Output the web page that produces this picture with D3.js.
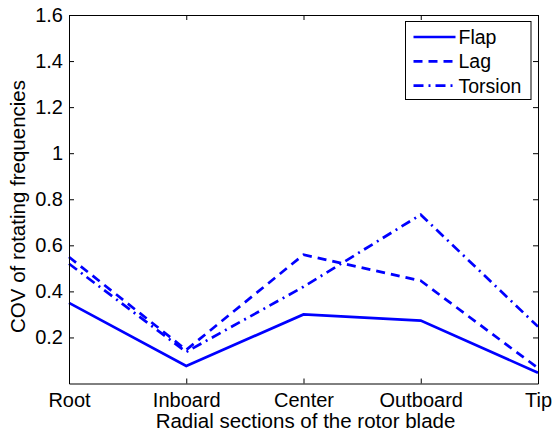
<!DOCTYPE html>
<html>
<head>
<meta charset="utf-8">
<script src="https://cdn.jsdelivr.net/npm/d3@7"></script>
<style>
  body { margin: 0; background: #fff; }
  text { font-family: "Liberation Sans", Arial, sans-serif; fill: #000; }
</style>
</head>
<body>
<svg id="chart" width="552" height="433"></svg>
<script>
// Radial sections and COV values
const sections = ["Root", "Inboard", "Center", "Outboard", "Tip"];
const flap = [0.35, 0.076, 0.30, 0.273, 0.047];
const lag = [0.549, 0.146, 0.559, 0.446, 0.067];
const torsion = [0.52, 0.137, 0.42, 0.733, 0.247];
const yTicks = [0.2, 0.4, 0.6, 0.8, 1, 1.2, 1.4, 1.6];

const seriesList = [
    { name: "Flap", values: flap, dash: null },
    { name: "Lag", values: lag, dash: "9,6" },
    { name: "Torsion", values: torsion, dash: "10,5,2,5" }
];

const tickFont = "20px";
const labelFont = "20.5px";
const legendFont = "19.5px";
const margin = {top: 15, right: 14, bottom: 49.5, left: 69};
const width = 552 - margin.left - margin.right;
const height = 433 - margin.top - margin.bottom;

const svg = d3.select("#chart");
const g = svg.append("g").attr("transform", `translate(${margin.left},${margin.top})`);

const x = d3.scalePoint().domain(sections).range([0, width]);
const y = d3.scaleLinear().domain([0, 1.6]).range([height, 0]);

// lines
const line = d3.line()
    .x((d, i) => x(sections[i]))
    .y(d => y(d));

seriesList.forEach(s => {
    g.append("path")
        .datum(s.values)
        .attr("fill", "none")
        .attr("stroke", "#0000ff")
        .attr("stroke-width", 2.7)
        .attr("stroke-dasharray", s.dash)
        .attr("d", line);
});

// axes with inward ticks, box style
const tickLen = 5;
const xAxis = g.append("g")
    .attr("transform", `translate(0,${height})`)
    .call(d3.axisBottom(x).tickSizeInner(-tickLen).tickSizeOuter(0).tickPadding(9));
const yAxis = g.append("g")
    .call(d3.axisLeft(y).tickValues(yTicks).tickFormat(d3.format("")).tickSizeInner(-tickLen).tickSizeOuter(0).tickPadding(6));
const xTop = g.append("g")
    .call(d3.axisTop(x).tickSizeInner(-tickLen).tickSizeOuter(0).tickFormat(""));
const yRight = g.append("g")
    .attr("transform", `translate(${width},0)`)
    .call(d3.axisRight(y).tickValues(yTicks).tickSizeInner(-tickLen).tickSizeOuter(0).tickFormat(""));

[xAxis, yAxis, xTop, yRight].forEach(a => {
    a.select(".domain").attr("stroke", "#000").attr("stroke-width", 1);
    a.selectAll(".tick line").attr("stroke", "#000");
    a.selectAll("text").style("font-size", tickFont).style("font-family", "Liberation Sans, Arial, sans-serif").attr("fill", "#000");
});

// axis labels
g.append("text")
    .attr("x", 305.5 - margin.left)
    .attr("y", height + 44.5)
    .attr("text-anchor", "middle")
    .style("font-size", labelFont)
    .text("Radial sections of the rotor blade");

g.append("text")
    .attr("transform", "rotate(-90)")
    .attr("x", -(206.5 - margin.top))
    .attr("y", 25 - margin.left)
    .attr("text-anchor", "middle")
    .style("font-size", labelFont)
    .text("COV of rotating frequencies");

// legend
const legend = g.append("g").attr("transform", `translate(${405.5 - margin.left},${21.5 - margin.top})`);
legend.append("rect")
    .attr("width", 125.5)
    .attr("height", 78)
    .attr("fill", "#fff")
    .attr("stroke", "#000")
    .attr("stroke-width", 1);

seriesList.forEach((s, i) => {
    const row = legend.append("g").attr("transform", `translate(0,${15.5 + i * 24.3})`);
    row.append("line")
        .attr("x1", 8).attr("x2", 50)
        .attr("stroke", "#0000ff")
        .attr("stroke-width", 2.7)
        .attr("stroke-dasharray", s.dash);
    row.append("text")
        .attr("x", 53)
        .attr("y", 7)
        .style("font-size", legendFont)
        .text(s.name);
});
</script>
</body>
</html>
